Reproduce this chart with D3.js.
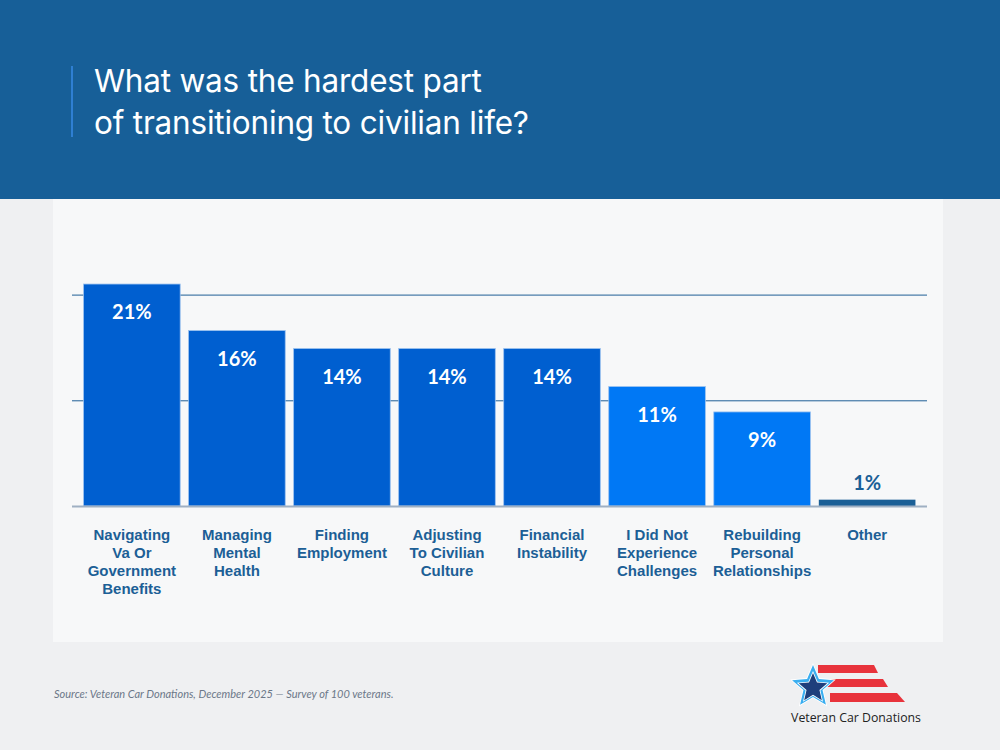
<!DOCTYPE html>
<html>
<head>
<meta charset="utf-8">
<script src="https://cdn.jsdelivr.net/npm/d3@7"></script>
<style>
  body { margin: 0; background: #eff0f2; }
  svg { display: block; }
</style>
</head>
<body>
<svg id="chart" width="1000" height="750"></svg>
<script>
// survey answers, bar heights as drawn and the labels printed on them
const categories = [
  'Navigating Va Or Government Benefits',
  'Managing Mental Health',
  'Finding Employment',
  'Adjusting To Civilian Culture',
  'Financial Instability',
  'I Did Not Experience Challenges',
  'Rebuilding Personal Relationships',
  'Other'
];
const categoryLines = [
  ['Navigating', 'Va Or', 'Government', 'Benefits'],
  ['Managing', 'Mental', 'Health'],
  ['Finding', 'Employment'],
  ['Adjusting', 'To Civilian', 'Culture'],
  ['Financial', 'Instability'],
  ['I Did Not', 'Experience', 'Challenges'],
  ['Rebuilding', 'Personal', 'Relationships'],
  ['Other']
];
const values = [21, 16.6, 14.9, 14.9, 14.9, 11.3, 8.9, 0.6];
const valueLabels = ['21%', '16%', '14%', '14%', '14%', '11%', '9%', '1%'];
const gridTicks = [10, 20];

const svg = d3.select('#chart');
const width = +svg.attr('width');
const height = +svg.attr('height');

// header band
svg.append('rect').attr('x', 0).attr('y', 0).attr('width', width).attr('height', 199)
    .attr('fill', '#175f98');
svg.append('rect').attr('x', 71).attr('y', 66).attr('width', 2).attr('height', 71)
    .attr('fill', '#2f7fd2');
const title = svg.append('text')
    .attr('x', 94).attr('fill', '#ffffff')
    .style('font-family', 'Inter, "Noto Sans", sans-serif')
    .style('font-size', '31.5px')
    .style('letter-spacing', '-0.2px');
title.append('tspan').attr('x', 94).attr('y', 92).text('What was the hardest part');
title.append('tspan').attr('x', 94).attr('y', 134).text('of transitioning to civilian life?');

// chart panel
svg.append('rect').attr('x', 53).attr('y', 199).attr('width', 890).attr('height', 443)
    .attr('fill', '#f7f8f9');

const plot = {left: 72, right: 927, top: 200, bottom: 506};

const x = d3.scaleBand()
    .domain(categories)
    .range([plot.left, plot.right])
    .paddingInner(0.08)
    .paddingOuter(0.11);

const y = d3.scaleLinear()
    .domain([0, 10])
    .range([plot.bottom, plot.bottom - 105.7]);

const g = svg.append('g');

// gridlines
g.append('g')
    .attr('transform', `translate(${plot.left},0)`)
    .call(d3.axisLeft(y).tickValues(gridTicks).tickSize(-(plot.right - plot.left)).tickFormat(''))
    .call(a => a.select('.domain').remove())
    .call(a => a.selectAll('.tick line').attr('stroke', '#1f5f96').attr('stroke-width', 1));

const colorFor = i => i < 5 ? '#005fd0' : (i < 7 ? '#0078f5' : '#1a5f96');

g.selectAll('rect.bar')
    .data(values)
    .enter().append('rect')
    .attr('class', 'bar')
    .attr('x', (d, i) => x(categories[i]))
    .attr('y', d => y(d))
    .attr('width', x.bandwidth())
    .attr('height', d => y(0) - y(d))
    .attr('fill', (d, i) => colorFor(i))
    .attr('stroke', (d, i) => i < 7 ? '#9cc2ef' : 'none')
    .attr('stroke-width', 0.8);

// baseline
g.append('line')
    .attr('x1', plot.left).attr('x2', plot.right)
    .attr('y1', y(0) + 0.5).attr('y2', y(0) + 0.5)
    .attr('stroke', '#9fb0c3').attr('stroke-width', 2);

// value labels
g.selectAll('text.value')
    .data(values)
    .enter().append('text')
    .attr('class', 'value')
    .attr('x', (d, i) => x(categories[i]) + x.bandwidth() / 2)
    .attr('y', d => (y(0) - y(d)) > 40 ? y(d) + 35 : y(d) - 10)
    .attr('text-anchor', 'middle')
    .attr('fill', d => (y(0) - y(d)) > 40 ? '#ffffff' : '#1a5f96')
    .style('font-family', 'Lato, "Noto Sans", sans-serif')
    .style('font-weight', 700)
    .style('font-size', '20px')
    .text((d, i) => valueLabels[i]);

// category labels
const xAxisG = g.append('g')
    .attr('transform', `translate(0,${plot.bottom})`)
    .call(d3.axisBottom(x).tickSize(0).tickFormat(''))
    .call(a => a.select('.domain').remove());

xAxisG.selectAll('.tick').each(function(d, i) {
  const t = d3.select(this).append('text')
      .attr('text-anchor', 'middle')
      .attr('fill', '#1c5f96')
      .style('font-family', '"Liberation Sans", Arial, sans-serif')
      .style('font-weight', 700)
      .style('font-size', '15px');
  categoryLines[i].forEach((line, k) => {
    t.append('tspan').attr('x', 0).attr('y', 34 + k * 18).text(line);
  });
});

// source note
svg.append('text')
    .attr('x', 54).attr('y', 698)
    .attr('fill', '#6b7788')
    .style('font-family', 'Lato, "Noto Sans", sans-serif')
    .style('font-style', 'italic')
    .style('font-size', '11px')
    .text('Source: Veteran Car Donations, December 2025 \u2014 Survey of 100 veterans.');

// logo
const logo = svg.append('g');
const stripes = [
  [[818, 665], [874, 665], [878, 673], [818, 673]],
  [[826, 679], [883, 679], [888, 687], [826, 687]],
  [[830, 693], [897, 693], [905, 702], [830, 702]]
];
stripes.forEach(p => {
  logo.append('polygon').attr('points', p.map(q => q.join(',')).join(' ')).attr('fill', '#e8333c');
});
const starPts = (cx, cy, R, r) => d3.range(10).map(k => {
  const a = -Math.PI / 2 + k * Math.PI / 5;
  const rad = k % 2 === 0 ? R : r;
  return [cx + rad * Math.cos(a), cy + rad * Math.sin(a)].join(',');
}).join(' ');
logo.append('polygon').attr('points', starPts(813, 687, 24, 11)).attr('fill', '#ffffff');
logo.append('polygon').attr('points', starPts(813, 687, 22, 10)).attr('fill', '#3aaef0');
logo.append('polygon').attr('points', starPts(813, 688, 17, 7.8)).attr('fill', '#ffffff');
logo.append('polygon').attr('points', starPts(813, 688, 15, 6.8)).attr('fill', '#1e3f7c');
logo.append('text')
    .attr('x', 856).attr('y', 722)
    .attr('text-anchor', 'middle')
    .attr('fill', '#222222')
    .style('font-family', '"Open Sans", sans-serif')
    .style('font-size', '12.3px')
    .text('Veteran Car Donations');
</script>
</body>
</html>
